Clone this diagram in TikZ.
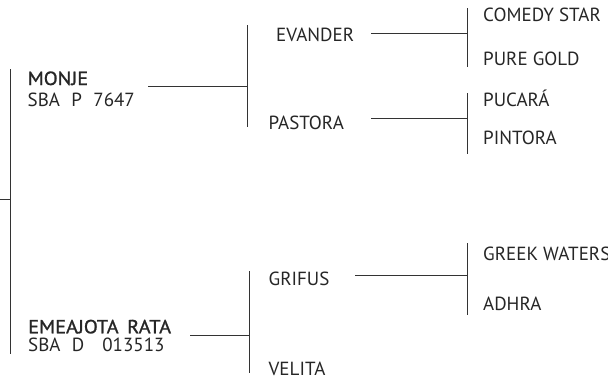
\documentclass[tikz,border=0pt]{standalone}
\usepackage{fontspec}
\setmainfont{PT Sans}
\newfontface\medface{PT Sans}[FakeBold=1.2,FakeStretch=1.07]
\begin{document}
\begin{tikzpicture}[x=1pt,y=-1pt,
  lbl/.style={anchor=base west,inner sep=0pt,text=black!85,font=\fontsize{19}{22}\selectfont},
  namelbl/.style={lbl,font=\fontsize{19}{22}\medface},
  ln/.style={draw=black!80,line width=0.9pt}]
\useasboundingbox[fill=white] (0,0) rectangle (608,380);
% root bracket
\coordinate (r0) at (0,199.5);
\coordinate (rb) at (10,199.5);
\coordinate (rt) at (10,69);
\coordinate (rd) at (10,354);
% generation 1
\node[namelbl] (monje) at (27.5,85) {MONJE};
\node[lbl] (monjeid) at (27.5,106.7) {SBA\hspace{0.6em}P\hspace{0.6em}7647};
\node[namelbl] (emea) at (28,333.3) {EMEAJOTA\hspace{0.45em}RATA};
\node[lbl] (emeaid) at (28,351.7) {SBA\hspace{0.6em}D\hspace{0.95em}013513};
% generation 2
\coordinate (m1) at (148,86.5);
\coordinate (m2) at (247,86.5);
\coordinate (mt) at (247,25);
\coordinate (mb) at (247,126.5);
\node[lbl] (evander) at (276,41.7) {EVANDER};
\node[lbl] (pastora) at (268.5,129.3) {PASTORA};
\coordinate (e1) at (190,335);
\coordinate (e2) at (249,335);
\coordinate (et) at (249,271);
\coordinate (eb) at (249,373);
\node[lbl] (grifus) at (268.5,285) {GRIFUS};
\node[lbl] (velita) at (268.5,375.5) {VELITA};
% generation 3
\coordinate (v1) at (371,33.5);
\coordinate (v2) at (467,33.5);
\coordinate (vt) at (467,8);
\coordinate (vb) at (467,67);
\node[lbl] (comedy) at (483,21.7) {COMEDY STAR};
\node[lbl] (pure) at (483,65) {PURE GOLD};
\coordinate (p1) at (371,118.5);
\coordinate (p2) at (467,118.5);
\coordinate (pt) at (467,93);
\coordinate (pb) at (467,153.5);
\node[lbl] (pucara) at (483,106.7) {PUCARÁ};
\node[lbl] (pintora) at (483,144) {PINTORA};
\coordinate (g1) at (355,275);
\coordinate (g2) at (467,275);
\coordinate (gt) at (467,243);
\coordinate (gb) at (467,315);
\node[lbl] (greek) at (483,260) {GREEK WATERS};
\node[lbl] (adhra) at (483,310.7) {ADHRA};
% connectors
\draw[ln] (r0) -- (rb);
\draw[ln] (rt) -- (rd);
\draw[ln] (m1) -- (m2);
\draw[ln] (mt) -- (mb);
\draw[ln] (e1) -- (e2);
\draw[ln] (et) -- (eb);
\draw[ln] (v1) -- (v2);
\draw[ln] (vt) -- (vb);
\draw[ln] (p1) -- (p2);
\draw[ln] (pt) -- (pb);
\draw[ln] (g1) -- (g2);
\draw[ln] (gt) -- (gb);
\end{tikzpicture}
\end{document}
